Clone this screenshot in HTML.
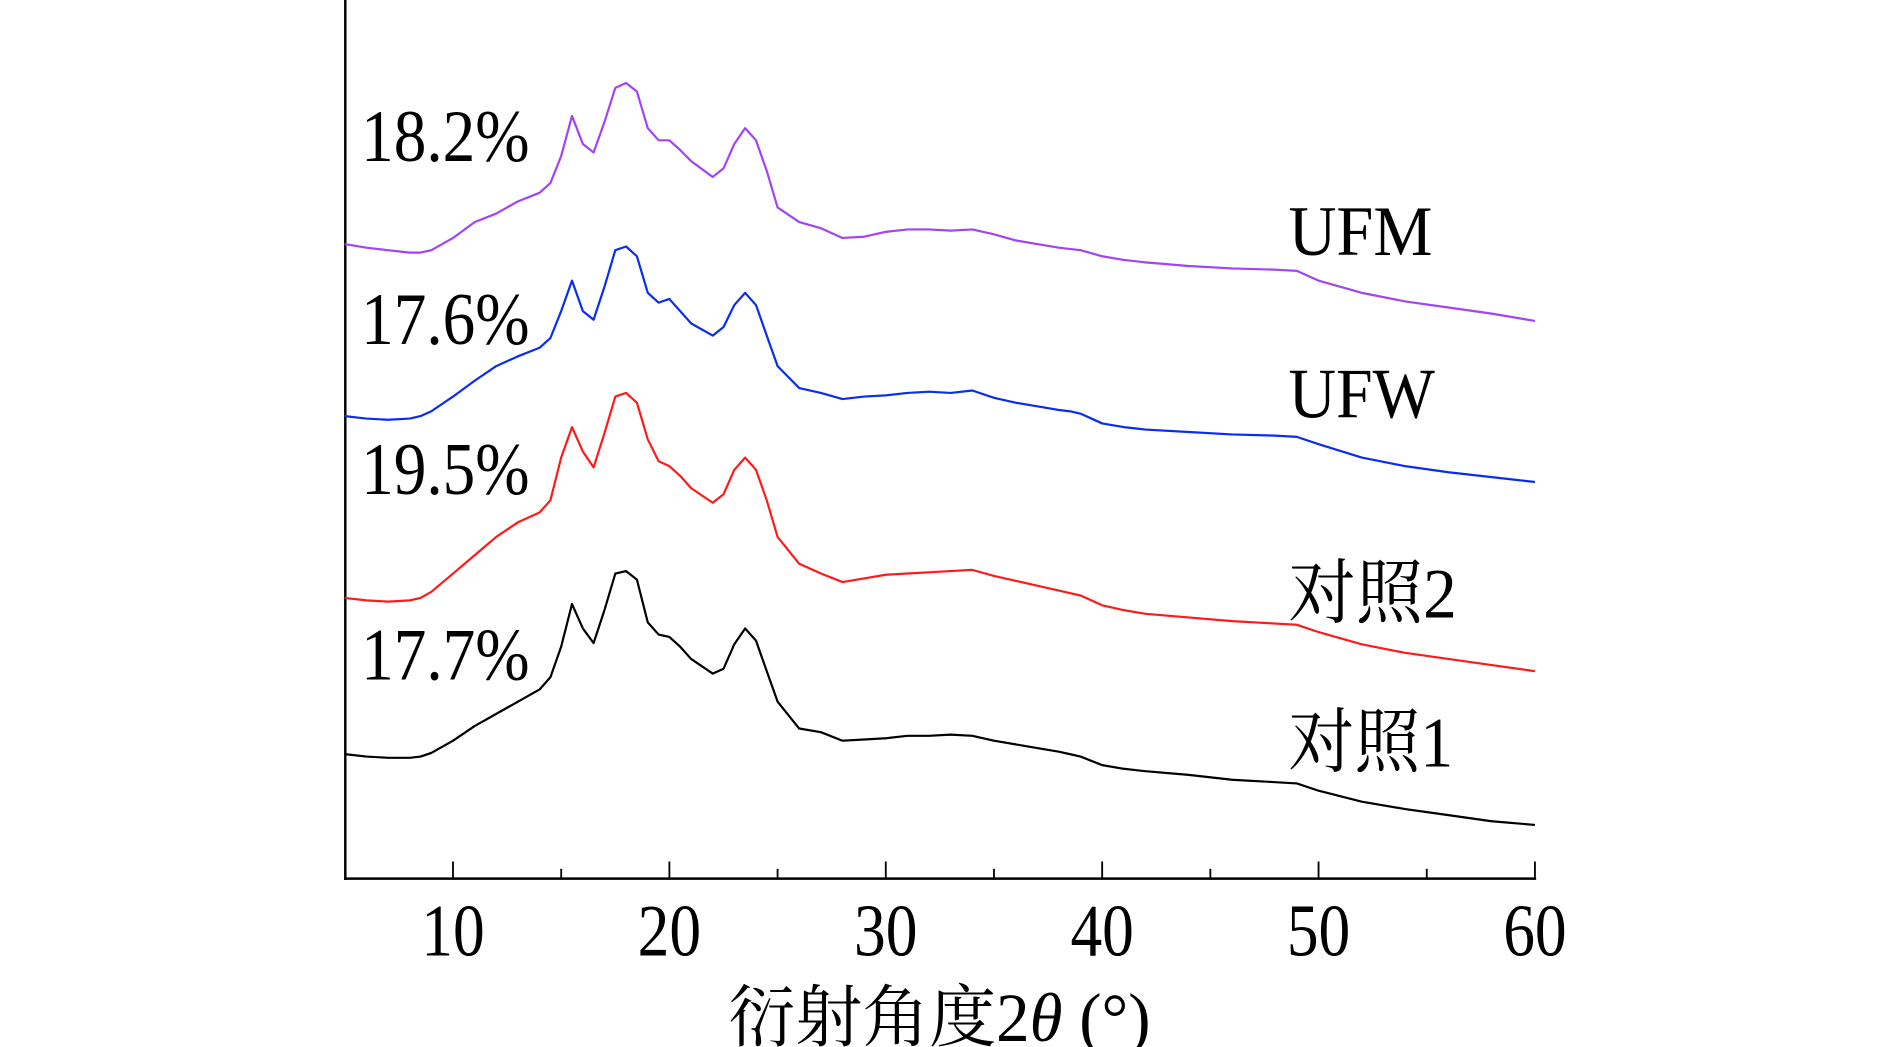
<!DOCTYPE html>
<html><head><meta charset="utf-8"><style>html,body{margin:0;padding:0;background:#fff}svg{display:block}</style></head>
<body>
<svg id="chart" width="1890" height="1047" viewBox="0 0 1549 858" preserveAspectRatio="none" xmlns="http://www.w3.org/2000/svg"
 font-family="'Liberation Serif','Noto Serif CJK SC',serif">
<rect width="1549" height="858" fill="#fff"/>
</svg>
<script>
const xTicks=[10,20,30,40,50,60];
const xMinor=[15,25,35,45,55];
const twoTheta=[5,6,7,8,8.5,9,10,11,12,13,14,14.5,15,15.5,16,16.5,17,17.5,18,18.5,19,19.5,20,20.5,21,22,22.5,23,23.5,24,24.5,25,26,27,28,29,30,31,32,33,34,35,36,37,38,38.5,39,40,41,42,44,46,48,49,50,52,54,56,58,60];
// intensities (arbitrary units, stacked with offset)
const control1=[102,100,99,99,100,103,113,125,135,145,155,165,190,225,205,193,220,250,252,245,210,200,198,190,180,168,172,192,205,195,170,145,123,120,113,114,115,117,117,118,117,113,110,107,104,102,100,93,90,88,85,81,79,78,72,63,57,52,47,44];
const control2=[230,228,227,228,230,235,250,265,280,292,300,310,345,370,350,337,365,395,398,390,360,342,338,330,320,308,315,335,345,335,310,280,258,250,243,246,249,250,251,252,253,248,244,240,236,234,232,224,220,217,214,211,209,208,202,192,185,180,175,170];
const ufw=[379,377,376,377,379,383,395,408,420,428,435,443,465,490,465,458,485,515,518,510,480,472,475,465,455,445,452,470,480,470,445,420,402,398,393,395,396,398,399,398,400,394,390,387,384,383,381,373,370,368,366,364,363,362,356,345,338,333,329,325];
const ufm=[520,517,515,513,513,515,525,538,545,555,562,570,592,625,602,595,620,648,652,645,615,605,605,597,588,575,582,602,615,605,580,550,538,533,525,526,530,532,532,531,532,528,523,520,517,516,515,510,507,505,502,500,499,498,490,480,473,468,463,457];
const seriesNames=['对照1','对照2','UFW','UFM'];
const seriesColors=['#000000','#ff1a1a','#0a2cf0','#a044f5'];
const pctLabels=['17.7%','19.5%','17.6%','18.2%'];

const svg=document.getElementById('chart');
const NS='http://www.w3.org/2000/svg';
const X0=282.6, X1=1258, Y0=720;
const xs=v=>X0+(v-5)/(60-5)*(X1-X0);
const ys=v=>Y0-v;
function mk(t,a){const e=document.createElementNS(NS,t);for(const k in a)e.setAttribute(k,a[k]);svg.appendChild(e);return e;}

const yAxis=mk('line',{x1:283,y1:0,x2:283,y2:721,stroke:'#000','stroke-width':2});


const xAxis=mk('line',{x1:282,y1:720,x2:1259,y2:720,stroke:'#000','stroke-width':2});


xTicks.forEach(t=>{
  const l=mk('line',{x1:xs(t),y1:720,x2:xs(t),y2:706,stroke:'#000','stroke-width':1.5});
  
  
  const tx=mk('text',{x:xs(t),y:783,'text-anchor':'middle','font-size':61,textLength:52,lengthAdjust:'spacingAndGlyphs'});
  tx.textContent=t;
  
  
});
xMinor.forEach(t=>{
  const l=mk('line',{x1:xs(t),y1:720,x2:xs(t),y2:712,stroke:'#000','stroke-width':1.5});
  
  
});
const title=mk('text',{x:597,y:853,'font-size':56,textLength:346,lengthAdjust:'spacingAndGlyphs'});
title.innerHTML='衍射角度2<tspan font-style="italic">θ</tspan> (°)';



const allSeries=[control1,control2,ufw,ufm];
const nameY=[628,506,342,209];
const nameW=[135,138,120,118];
const pctY=[557,405,282,132];
allSeries.forEach((s,i)=>{
  const d=s.map((v,j)=>(j?'L':'M')+xs(twoTheta[j]).toFixed(1)+','+ys(v).toFixed(1)).join('');
  const p=mk('path',{d:d,fill:'none',stroke:seriesColors[i],'stroke-width':1.8,'stroke-linejoin':'round'});
  
  
  const n=mk('text',{x:1056,y:nameY[i],'font-size':58,textLength:nameW[i],lengthAdjust:'spacingAndGlyphs'});
  n.textContent=seriesNames[i];
  
  
  const pc=mk('text',{x:296,y:pctY[i],'font-size':61,textLength:138,lengthAdjust:'spacingAndGlyphs'});
  pc.textContent=pctLabels[i];
  
  
});
</script>
</body></html>
